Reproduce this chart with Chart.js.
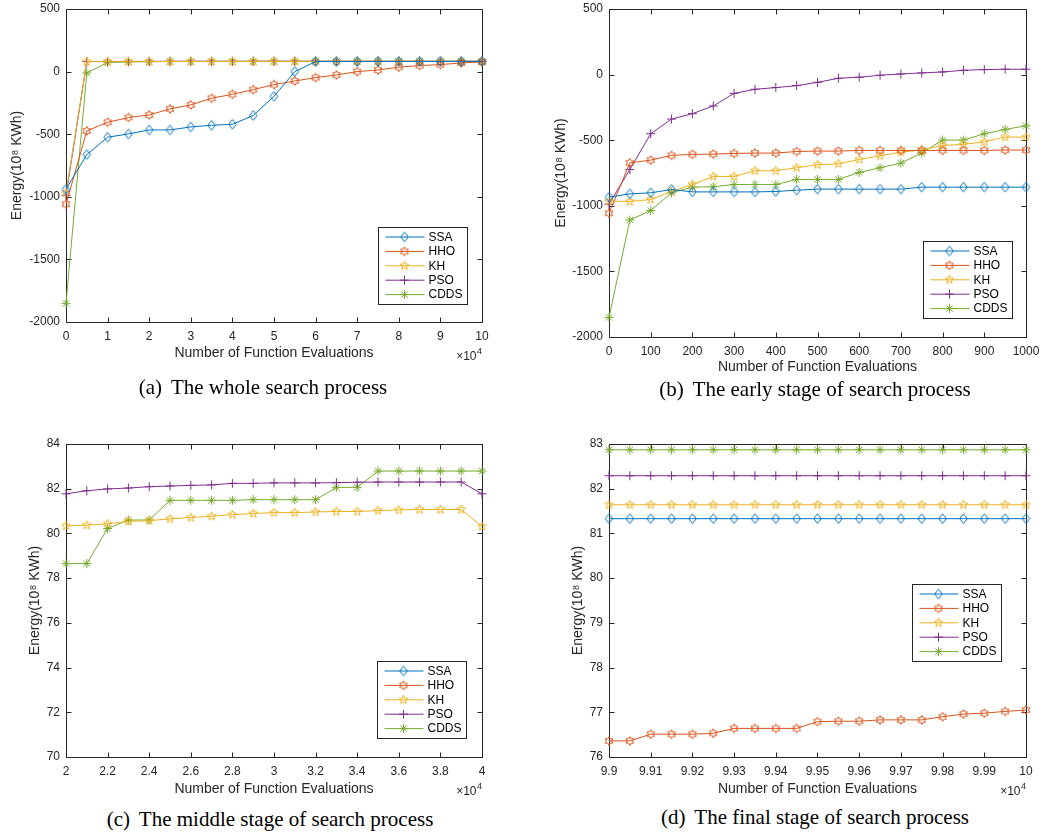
<!DOCTYPE html>
<html>
<head>
<meta charset="utf-8">
<script src="https://cdn.jsdelivr.net/npm/chart.js@4.4.0/dist/chart.umd.min.js"></script>
<style>
  body { margin: 0; background: #fff; width: 1041px; height: 838px; position: relative; overflow: hidden; }
  .panel { position: absolute; }
  .cap { position: absolute; width: 520px; text-align: center; font-family: "Liberation Serif", "Times New Roman", serif;
         font-size: 21px; line-height: 24px; color: #000; white-space: nowrap; }
  .cap span { margin-right: 4px; }
</style>
</head>
<body>
<div class="panel" style="left:0;top:0"><canvas id="chartA" width="520" height="365"></canvas></div>
<div class="panel" style="left:520px;top:0"><canvas id="chartB" width="521" height="380"></canvas></div>
<div class="panel" style="left:0;top:420px"><canvas id="chartC" width="520" height="380"></canvas></div>
<div class="panel" style="left:520px;top:420px"><canvas id="chartD" width="521" height="380"></canvas></div>

<div class="cap" style="left:3px;top:375px"><span>(a)</span> The whole search process</div>
<div class="cap" style="left:555px;top:377px"><span>(b)</span> The early stage of search process</div>
<div class="cap" style="left:10px;top:807px"><span>(c)</span> The middle stage of search process</div>
<div class="cap" style="left:555px;top:805px"><span>(d)</span> The final stage of search process</div>

<script>
const names = ['SSA', 'HHO', 'KH', 'PSO', 'CDDS'];
const colors = ['#0072BD', '#D95319', '#EDB120', '#7E2F8E', '#77AC30'];

// (a) whole process, x in units of 1e4 evaluations
const evalsA = [0, 0.5, 1, 1.5, 2, 2.5, 3, 3.5, 4, 4.5, 5, 5.5, 6, 6.5, 7, 7.5, 8, 8.5, 9, 9.5, 10];
const ssaA  = [-940, -663, -524, -498, -466, -466, -442, -429, -421, -351, -197, 0, 80, 80.5, 81, 81.2, 81.3, 81.33, 81.33, 81.33, 81.33];
const hhoA  = [-1060, -474, -405, -367, -346, -298, -266, -213, -181, -144, -104, -75, -48, -27, 0, 13, 35, 48, 56, 69, 77.05];
const khA   = [-970, 79.5, 80, 80.2, 80.34, 80.65, 80.93, 81.02, 80.31, 81.1, 81.2, 81.3, 81.4, 81.5, 81.55, 81.6, 81.62, 81.64, 81.65, 81.65, 81.65];
const psoA  = [-988, 80, 81, 81.5, 81.77, 82.12, 82.26, 82.3, 81.77, 82.29, 82.29, 82.29, 82.29, 82.29, 82.29, 82.29, 82.29, 82.29, 82.29, 82.29, 82.29];
const cddsA = [-1851, -11, 72, 77, 78.65, 81.48, 81.51, 82.79, 82.79, 82.87, 82.87, 82.87, 82.87, 82.87, 82.87, 82.87, 82.87, 82.87, 82.87, 82.87, 82.87];
const xTicksA = [0, 1, 2, 3, 4, 5, 6, 7, 8, 9, 10];
const yTicksA = [-2000, -1500, -1000, -500, 0, 500];

// (b) early stage
const evalsB = [0, 50, 100, 150, 200, 250, 300, 350, 400, 450, 500, 550, 600, 650, 700, 750, 800, 850, 900, 950, 1000];
const ssaB  = [-934, -909, -901, -876, -894, -894, -894, -894, -891, -881, -873, -873, -873, -873, -873, -858, -858, -858, -858, -858, -858];
const hhoB  = [-1057, -672, -652, -616, -608, -606, -601, -598, -598, -586, -583, -583, -578, -578, -578, -578, -578, -578, -578, -575, -575];
const khB   = [-965, -967, -952, -891, -838, -776, -776, -733, -733, -710, -687, -680, -647, -619, -591, -575, -540, -532, -512, -476, -476];
const psoB  = [-988, -723, -451, -339, -298, -239, -143, -112, -99, -84, -59, -28, -20, -5, 5, 13, 20, 33, 38, 41, 41];
const cddsB = [-1851, -1108, -1036, -901, -858, -855, -838, -838, -838, -799, -799, -799, -746, -710, -675, -598, -499, -499, -451, -418, -390];
const xTicksB = [0, 100, 200, 300, 400, 500, 600, 700, 800, 900, 1000];
const yTicksB = [-2000, -1500, -1000, -500, 0, 500];

// (c) middle stage, x in units of 1e4 (SSA and HHO lie below this range)
const evalsC = [2, 2.1, 2.2, 2.3, 2.4, 2.5, 2.6, 2.7, 2.8, 2.9, 3, 3.1, 3.2, 3.3, 3.4, 3.5, 3.6, 3.7, 3.8, 3.9, 4];
const ssaC  = [];
const hhoC  = [];
const khC   = [80.34, 80.37, 80.43, 80.54, 80.57, 80.65, 80.71, 80.77, 80.84, 80.89, 80.93, 80.93, 80.96, 80.98, 80.98, 81.02, 81.05, 81.07, 81.07, 81.07, 80.31];
const psoC  = [81.77, 81.91, 81.99, 82.03, 82.09, 82.12, 82.15, 82.17, 82.24, 82.24, 82.26, 82.26, 82.26, 82.27, 82.29, 82.3, 82.3, 82.3, 82.3, 82.3, 81.77];
const cddsC = [78.65, 78.65, 80.22, 80.6, 80.6, 81.48, 81.48, 81.48, 81.48, 81.51, 81.51, 81.51, 81.51, 82.06, 82.06, 82.79, 82.79, 82.79, 82.79, 82.79, 82.79];
const xTicksC = [2, 2.2, 2.4, 2.6, 2.8, 3, 3.2, 3.4, 3.6, 3.8, 4];
const yTicksC = [70, 72, 74, 76, 78, 80, 82, 84];

// (d) final stage, x in units of 1e4
const evalsD = [9.9, 9.905, 9.91, 9.915, 9.92, 9.925, 9.93, 9.935, 9.94, 9.945, 9.95, 9.955, 9.96, 9.965, 9.97, 9.975, 9.98, 9.985, 9.99, 9.995, 10];
const ssaD  = [81.33, 81.33, 81.33, 81.33, 81.33, 81.33, 81.33, 81.33, 81.33, 81.33, 81.33, 81.33, 81.33, 81.33, 81.33, 81.33, 81.33, 81.33, 81.33, 81.33, 81.33];
const hhoD  = [76.36, 76.36, 76.51, 76.51, 76.51, 76.53, 76.64, 76.64, 76.64, 76.64, 76.79, 76.8, 76.8, 76.83, 76.83, 76.83, 76.9, 76.96, 76.98, 77.02, 77.05];
const khD   = [81.64, 81.64, 81.64, 81.64, 81.64, 81.64, 81.64, 81.64, 81.64, 81.64, 81.64, 81.64, 81.64, 81.64, 81.64, 81.64, 81.64, 81.64, 81.64, 81.64, 81.64];
const psoD  = [82.29, 82.29, 82.29, 82.29, 82.29, 82.29, 82.29, 82.29, 82.29, 82.29, 82.29, 82.29, 82.29, 82.29, 82.29, 82.29, 82.29, 82.29, 82.29, 82.29, 82.29];
const cddsD = [82.87, 82.87, 82.87, 82.87, 82.87, 82.87, 82.87, 82.87, 82.87, 82.87, 82.87, 82.87, 82.87, 82.87, 82.87, 82.87, 82.87, 82.87, 82.87, 82.87, 82.87];
const xTicksD = [9.9, 9.91, 9.92, 9.93, 9.94, 9.95, 9.96, 9.97, 9.98, 9.99, 10];
const yTicksD = [76, 77, 78, 79, 80, 81, 82, 83];

const axisColor = '#262626';
const sansFont = '"Liberation Sans", Arial, Helvetica, sans-serif';

function markerCanvas(r, draw) {
    const size = Math.ceil(2 * r + 3);
    const c = document.createElement('canvas');
    c.width = c.height = size;
    const g = c.getContext('2d');
    g.lineWidth = 1;
    draw(g, size / 2);
    return c;
}

// open star markers like matlab 'p' and 'h'
function starMarker(color, n, r, ratio) {
    return markerCanvas(r, (g, m) => {
        g.strokeStyle = color;
        g.beginPath();
        for (let i = 0; i < 2 * n; i++) {
            const ang = -Math.PI / 2 + i * Math.PI / n;
            const rr = i % 2 ? r * ratio : r;
            const px = m + rr * Math.cos(ang), py = m + rr * Math.sin(ang);
            if (i === 0) g.moveTo(px, py); else g.lineTo(px, py);
        }
        g.closePath();
        g.stroke();
    });
}

// matlab 'd' is a bit taller than wide
function diamondMarker(color, rx, ry) {
    return markerCanvas(ry, (g, m) => {
        g.strokeStyle = color;
        g.beginPath();
        g.moveTo(m, m - ry);
        g.lineTo(m + rx, m);
        g.lineTo(m, m + ry);
        g.lineTo(m - rx, m);
        g.closePath();
        g.stroke();
    });
}

const markers = [
    diamondMarker(colors[0], 3.8, 4.8),
    starMarker(colors[1], 6, 4.4, 0.577),
    starMarker(colors[2], 5, 4.6, 0.42),
    'cross',
    'star'
];

const fmt = v => String(+Number(v).toFixed(3));

const matlabAxes = {
    id: 'matlabAxes',
    beforeDatasetsDraw(chart) {
        const {ctx, chartArea: a, scales: {x, y}} = chart;
        const L = Math.round(a.left) + 0.5, R = Math.round(a.right) + 0.5;
        const T = Math.round(a.top) + 0.5, B = Math.round(a.bottom) + 0.5;
        ctx.save();
        ctx.strokeStyle = axisColor;
        ctx.lineWidth = 1;
        ctx.beginPath();
        ctx.rect(L, T, R - L, B - T);
        x.ticks.forEach(t => {
            const px = Math.round(x.getPixelForValue(t.value)) + 0.5;
            ctx.moveTo(px, B); ctx.lineTo(px, B - 5);
            ctx.moveTo(px, T); ctx.lineTo(px, T + 5);
        });
        y.ticks.forEach(t => {
            const py = Math.round(y.getPixelForValue(t.value)) + 0.5;
            ctx.moveTo(L, py); ctx.lineTo(L + 5, py);
            ctx.moveTo(R, py); ctx.lineTo(R - 5, py);
        });
        ctx.stroke();
        ctx.restore();
    },
    afterDraw(chart, args, opts) {
        const {ctx, chartArea: a} = chart;
        ctx.save();
        // x10^4 multiplier under the right end of the x axis
        if (opts.exponent) {
            ctx.fillStyle = axisColor;
            ctx.textBaseline = 'alphabetic';
            ctx.textAlign = 'right';
            ctx.font = '9px ' + sansFont;
            const ew = ctx.measureText(opts.exponent).width;
            ctx.fillText(opts.exponent, a.right, a.bottom + 32);
            ctx.font = '12px ' + sansFont;
            ctx.fillText('\u00d710', a.right - ew - 0.5, a.bottom + 38);
        }
        // legend box inside the axes
        const lg = opts.legend;
        const sets = chart.data.datasets;
        ctx.font = '12px ' + sansFont;
        const tw = Math.max(...sets.map(d => ctx.measureText(d.label).width));
        const rowH = 14.4;
        const w = Math.round(50 + tw + 5), h = Math.round(19 + rowH * (sets.length - 1));
        const x0 = Math.round(a.right - lg.right - w) + 0.5;
        const y0 = Math.round(lg.top != null ? a.top + lg.top : a.bottom - lg.bottom - h) + 0.5;
        ctx.fillStyle = '#fff';
        ctx.fillRect(x0, y0, w, h);
        ctx.strokeStyle = axisColor;
        ctx.lineWidth = 1;
        ctx.strokeRect(x0, y0, w, h);
        sets.forEach((d, i) => {
            const cy = y0 + 9.5 + i * rowH;
            ctx.strokeStyle = d.borderColor;
            ctx.lineWidth = 1;
            ctx.beginPath();
            ctx.moveTo(x0 + 7, cy);
            ctx.lineTo(x0 + 46, cy);
            ctx.stroke();
            ctx.fillStyle = 'rgba(0,0,0,0)';
            Chart.helpers.drawPoint(ctx, {pointStyle: d.pointStyle, radius: d.pointRadius, rotation: 0, borderWidth: 1}, x0 + 26, cy);
            ctx.fillStyle = '#000';
            ctx.textAlign = 'left';
            ctx.textBaseline = 'middle';
            ctx.fillText(d.label, x0 + 50, cy + 0.5);
        });
        ctx.restore();
    }
};

function makeChart(id, xs, series, xTicks, yTicks, geo) {
    const datasets = series.map((ys, i) => ({
        label: names[i],
        data: ys.map((v, j) => ({x: xs[j], y: v})),
        borderColor: colors[i],
        borderWidth: 1,
        pointStyle: markers[i],
        pointRadius: 4.5,
        pointBorderWidth: 1,
        pointBorderColor: colors[i],
        pointBackgroundColor: 'rgba(0,0,0,0)',
        tension: 0,
        clip: false
    }));
    return new Chart(document.getElementById(id), {
        type: 'line',
        data: {datasets},
        options: {
            responsive: false,
            animation: false,
            events: [],
            layout: {padding: {top: geo.top, right: geo.right, left: 0, bottom: 0}},
            plugins: {
                legend: {display: false},
                tooltip: {enabled: false},
                matlabAxes: {legend: geo.legend, exponent: geo.exponent}
            },
            scales: {
                x: {
                    type: 'linear',
                    min: xTicks[0],
                    max: xTicks[xTicks.length - 1],
                    afterBuildTicks: s => { s.ticks = xTicks.map(v => ({value: v})); },
                    afterFit: s => { s.height = geo.xHeight; s.paddingLeft = 0; s.paddingRight = 0; },
                    grid: {display: false, drawTicks: false},
                    border: {display: false},
                    ticks: {padding: 7, maxRotation: 0, autoSkip: false, color: axisColor,
                            font: {family: sansFont, size: 12}, callback: fmt},
                    title: {display: true, text: 'Number of Function Evaluations', color: axisColor,
                            font: {family: sansFont, size: 14}, padding: {top: 0, bottom: geo.xTitlePad}}
                },
                y: {
                    type: 'linear',
                    min: yTicks[0],
                    max: yTicks[yTicks.length - 1],
                    afterBuildTicks: s => { s.ticks = yTicks.map(v => ({value: v})); },
                    afterFit: s => { s.width = geo.yWidth; s.paddingTop = 0; s.paddingBottom = 0; },
                    grid: {display: false, drawTicks: false},
                    border: {display: false},
                    ticks: {padding: 6, color: axisColor, font: {family: sansFont, size: 12}, callback: fmt},
                    title: {display: true, text: 'Energy(10\u2078 KWh)', color: axisColor,
                            font: {family: sansFont, size: 14}, padding: {top: geo.yTitlePad, bottom: 0}}
                }
            }
        },
        plugins: [matlabAxes]
    });
}

makeChart('chartA', evalsA, [ssaA, hhoA, khA, psoA, cddsA], xTicksA, yTicksA,
    {top: 9, right: 38, xHeight: 43, yWidth: 66, xTitlePad: 3.6, yTitlePad: 8.6,
     legend: {right: 15, bottom: 18}, exponent: '4'});
makeChart('chartB', evalsB, [ssaB, hhoB, khB, psoB, cddsB], xTicksB, yTicksB,
    {top: 9, right: 15, xHeight: 43, yWidth: 89, xTitlePad: 4.6, yTitlePad: 32.6,
     legend: {right: 14, bottom: 19}});
makeChart('chartC', evalsC, [ssaC, hhoC, khC, psoC, cddsC], xTicksC, yTicksC,
    {top: 24, right: 38, xHeight: 43, yWidth: 66, xTitlePad: 2.6, yTitlePad: 26.6,
     legend: {right: 16, bottom: 19}, exponent: '4'});
makeChart('chartD', evalsD, [ssaD, hhoD, khD, psoD, cddsD], xTicksD, yTicksD,
    {top: 24, right: 15, xHeight: 43, yWidth: 89, xTitlePad: 2.6, yTitlePad: 49.6,
     legend: {right: 25, top: 140}, exponent: '4'});
</script>
</body>
</html>
